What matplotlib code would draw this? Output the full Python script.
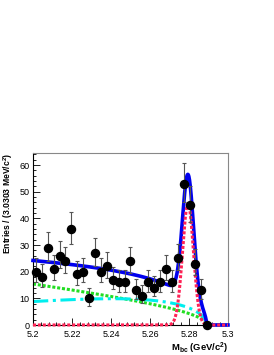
import matplotlib
matplotlib.use('Agg')
import matplotlib.pyplot as plt
import numpy as np
from matplotlib.ticker import MultipleLocator

plt.rcParams['font.family'] = ['Liberation Sans', 'DejaVu Sans']
plt.rcParams['mathtext.fontset'] = 'custom'
plt.rcParams['mathtext.rm'] = 'Liberation Sans'
plt.rcParams['mathtext.bf'] = 'Liberation Sans:bold'
plt.rcParams['mathtext.default'] = 'bf'

# data: 33 bins of 3.0303 MeV from 5.2 to 5.3, only the filled ones are drawn
bin_width = 0.1 / 33
bin_index = np.arange(30)
entries = [20, 18, 29, 21, 26, 24, 36, 19, 20, 10,
           27, 20, 22, 17, 16, 16, 24, 13, 11, 16,
           14, 16, 21, 16, 25, 53, 45, 23, 13, 0]

# fit components
m0 = 5.289          # ARGUS endpoint
cont_at_52 = 15.4   # continuum (green) at 5.2
cont_c = 5.0
bb_at_52 = 8.8      # BB background (cyan) at 5.2
bb_c = -27.0
sig_peak = 45.5     # signal (red) peak height
sig_mean = 5.2795
sig_sigma = 0.0028


def argus(m, c):
    x = np.clip(m / m0, 0, 1)
    y = 1 - x ** 2
    return m * np.sqrt(y) * np.exp(c * y)


xc = 5.2 + (bin_index + 0.5) * bin_width
n = np.array(entries, dtype=float)
err_lo = np.where(n > 0, np.sqrt(n + 0.25) - 0.5, 0)
err_hi = np.where(n > 0, np.sqrt(n + 0.25) + 0.5, 0)

m = np.linspace(5.2, 5.3, 1000)
cont = cont_at_52 * argus(m, cont_c) / argus(5.2, cont_c)
bb = bb_at_52 * argus(m, bb_c) / argus(5.2, bb_c)
sig = sig_peak * np.exp(-0.5 * ((m - sig_mean) / sig_sigma) ** 2)
total = cont + bb + sig

fig = plt.figure(figsize=(2.74, 3.55), dpi=100)
ax = fig.add_axes([0.1204, 0.0845, 0.7116, 0.4845])

ax.plot(m, cont, color='#22dd22', lw=2.2, ls=(0, (1, 0.6)), zorder=2, clip_on=False)
ax.plot(m, bb, color='#00eeee', lw=2.2, ls=(0, (5, 1.5, 1, 1.5)), zorder=2, clip_on=False)
ax.plot(m, total, color='#0000ee', lw=2.6, zorder=3, clip_on=False)
ax.plot(m, sig, color='#ff2255', lw=2.2, ls=(0, (1, 0.6)), zorder=4, clip_on=False)

ax.errorbar(xc, n, yerr=[err_lo, err_hi], fmt='o', color='black', ms=5.8,
            ecolor='#555555', elinewidth=0.8, capsize=1.3, capthick=0.8,
            zorder=5, clip_on=False)

ax.set_xlim(5.2, 5.3)
ax.set_ylim(0, 64.5)
ax.xaxis.set_major_locator(MultipleLocator(0.02))
ax.xaxis.set_minor_locator(MultipleLocator(0.004))
ax.yaxis.set_major_locator(MultipleLocator(10))
ax.yaxis.set_minor_locator(MultipleLocator(2))
ax.set_xticks([5.2, 5.22, 5.24, 5.26, 5.28, 5.3])
ax.set_xticklabels(['5.2', '5.22', '5.24', '5.26', '5.28', '5.3'])
ax.tick_params(which='both', direction='in', top=False, right=False, labelsize=6.5)
ax.tick_params(axis='x', pad=3.5)
ax.tick_params(axis='y', pad=2.5)
ax.tick_params(which='major', length=5, width=0.6)
ax.tick_params(which='minor', length=2.5, width=0.6)
for s in ['top', 'right']:
    ax.spines[s].set_color('#888888')
for s in ax.spines.values():
    s.set_linewidth(0.8)

ax.set_ylabel('Entries / (3.0303 MeV/c$^{2}$)', fontsize=6.2, fontweight='bold', loc='top', labelpad=3)
ax.set_xlabel('M$_{bc}$ (GeV/c$^{2}$)', fontsize=6.8, fontweight='bold', loc='right', labelpad=1)

fig.savefig('out.png', dpi=100)
